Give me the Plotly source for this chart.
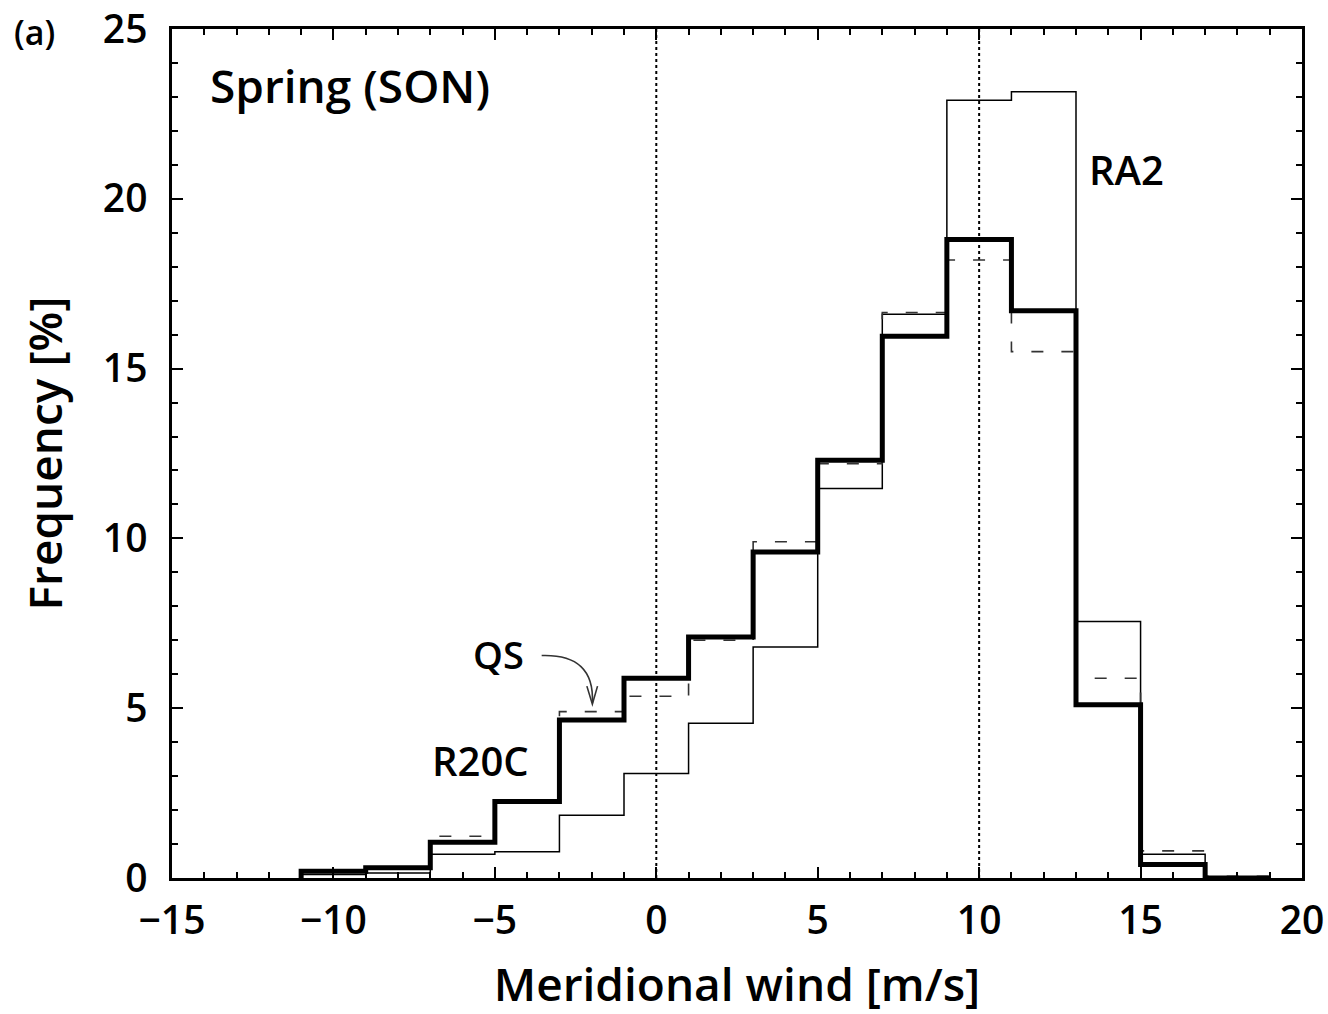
import plotly.graph_objects as go

# Bin edges (m/s) and frequencies (%)
edges = [-11, -9, -7, -5, -3, -1, 1, 3, 5, 7, 9, 11, 13, 15, 17, 19]
r20c = [0.2, 0.3, 1.05, 2.25, 4.65, 5.88, 7.1, 9.6, 12.3, 15.95, 18.8, 16.7, 5.1, 0.4, 0.0]
ra2 = [0.1, 0.15, 0.7, 0.77, 1.85, 3.08, 4.56, 6.8, 11.47, 16.6, 22.9, 23.15, 7.55, 0.7, 0.0]
qs = [0.2, 0.3, 1.23, 2.3, 4.9, 5.35, 7.0, 9.9, 12.2, 16.65, 18.2, 15.5, 5.88, 0.8, 0.05]

x_ticks = [-15, -10, -5, 0, 5, 10, 15, 20]
y_ticks = [0, 5, 10, 15, 20, 25]
ref_lines = [0, 10]

FONT = "Open Sans"
W = 600


def step(vals):
    xs = [edges[0]] + edges
    ys = [0] + vals + [0]
    return xs, ys


fig = go.Figure()

for xv in ref_lines:
    fig.add_trace(go.Scatter(x=[xv, xv], y=[0, 25], mode="lines",
                             line=dict(color="black", width=2, dash="dot"),
                             showlegend=False, hoverinfo="skip"))

xs, ys = step(ra2)
fig.add_trace(go.Scatter(x=xs, y=ys, mode="lines", line_shape="hv",
                         line=dict(color="black", width=1.5), name="RA2", showlegend=False))
xs, ys = step(qs)
fig.add_trace(go.Scatter(x=xs, y=ys, mode="lines", line_shape="hv",
                         line=dict(color="#333333", width=1.6, dash="12px,18px"), name="QS", showlegend=False))
xs, ys = step(r20c)
fig.add_trace(go.Scatter(x=xs, y=ys, mode="lines", line_shape="hv",
                         line=dict(color="black", width=5), name="R20C", showlegend=False))

axis_common = dict(
    showline=True, linecolor="black", linewidth=2.5, mirror="allticks",
    ticks="inside", ticklen=11, tickwidth=2, tickcolor="black",
    showgrid=False, zeroline=False, ticklabeloverflow="allow", automargin=False,
    tickfont=dict(family=FONT, size=39, color="black", weight=W),
    title_font=dict(family=FONT, size=46, color="black", weight=W),
)

fig.update_xaxes(range=[-15, 20], tickvals=x_ticks,
                 ticktext=[f"{v}".replace("-", "\u2212") for v in x_ticks],
                 minor=dict(ticks="inside", ticklen=6, tickwidth=1.5, tickcolor="black", dtick=1, tick0=0),
                 ticklabelstandoff=6,
                 title_text="Meridional wind [m/s]", title_standoff=27, **axis_common)
fig.update_yaxes(range=[0, 25], tickvals=y_ticks,
                 minor=dict(ticks="inside", ticklen=6, tickwidth=1.5, tickcolor="black", dtick=1, tick0=0),
                 ticklabelstandoff=14,
                 title_text="Frequency [%]", title_standoff=26, **axis_common)

fig.add_annotation(xref="paper", yref="paper", x=-0.142, y=0.997, xanchor="left", yanchor="middle",
                   text="(a)", showarrow=False, font=dict(family=FONT, size=34, color="black", weight=W))
fig.add_annotation(x=-13.9, y=23.35, xanchor="left", yanchor="middle",
                   text="Spring (SON)", showarrow=False, font=dict(family=FONT, size=46, color="black", weight=W))
fig.add_annotation(x=13.35, y=20.85, xanchor="left", yanchor="middle",
                   text="RA2", showarrow=False, font=dict(family=FONT, size=40, color="black", weight=W))
fig.add_annotation(x=-5.75, y=6.6, xanchor="left", yanchor="middle",
                   text="QS", showarrow=False, font=dict(family=FONT, size=38, color="black", weight=W))
fig.add_annotation(x=-7.0, y=3.45, xanchor="left", yanchor="middle",
                   text="R20C", showarrow=False, font=dict(family=FONT, size=40, color="black", weight=W))

# curved arrow from QS label to the QS step
fig.add_shape(type="path", path="M -3.55,6.55 Q -1.9,6.6 -1.98,5.15",
              line=dict(color="#333333", width=1.6))
fig.add_shape(type="path", path="M -2.15,5.65 L -1.98,5.12 L -1.82,5.65",
              line=dict(color="#333333", width=1.6))

fig.update_layout(
    width=1328, height=1014,
    margin=dict(l=172, r=26, t=29, b=136, autoexpand=False),
    paper_bgcolor="white", plot_bgcolor="white",
    font=dict(family=FONT, color="black"),
)

fig.write_html("out.html", config={"displayModeBar": False},
               post_script="document.body.style.margin='0px';document.body.style.overflow='hidden';")
